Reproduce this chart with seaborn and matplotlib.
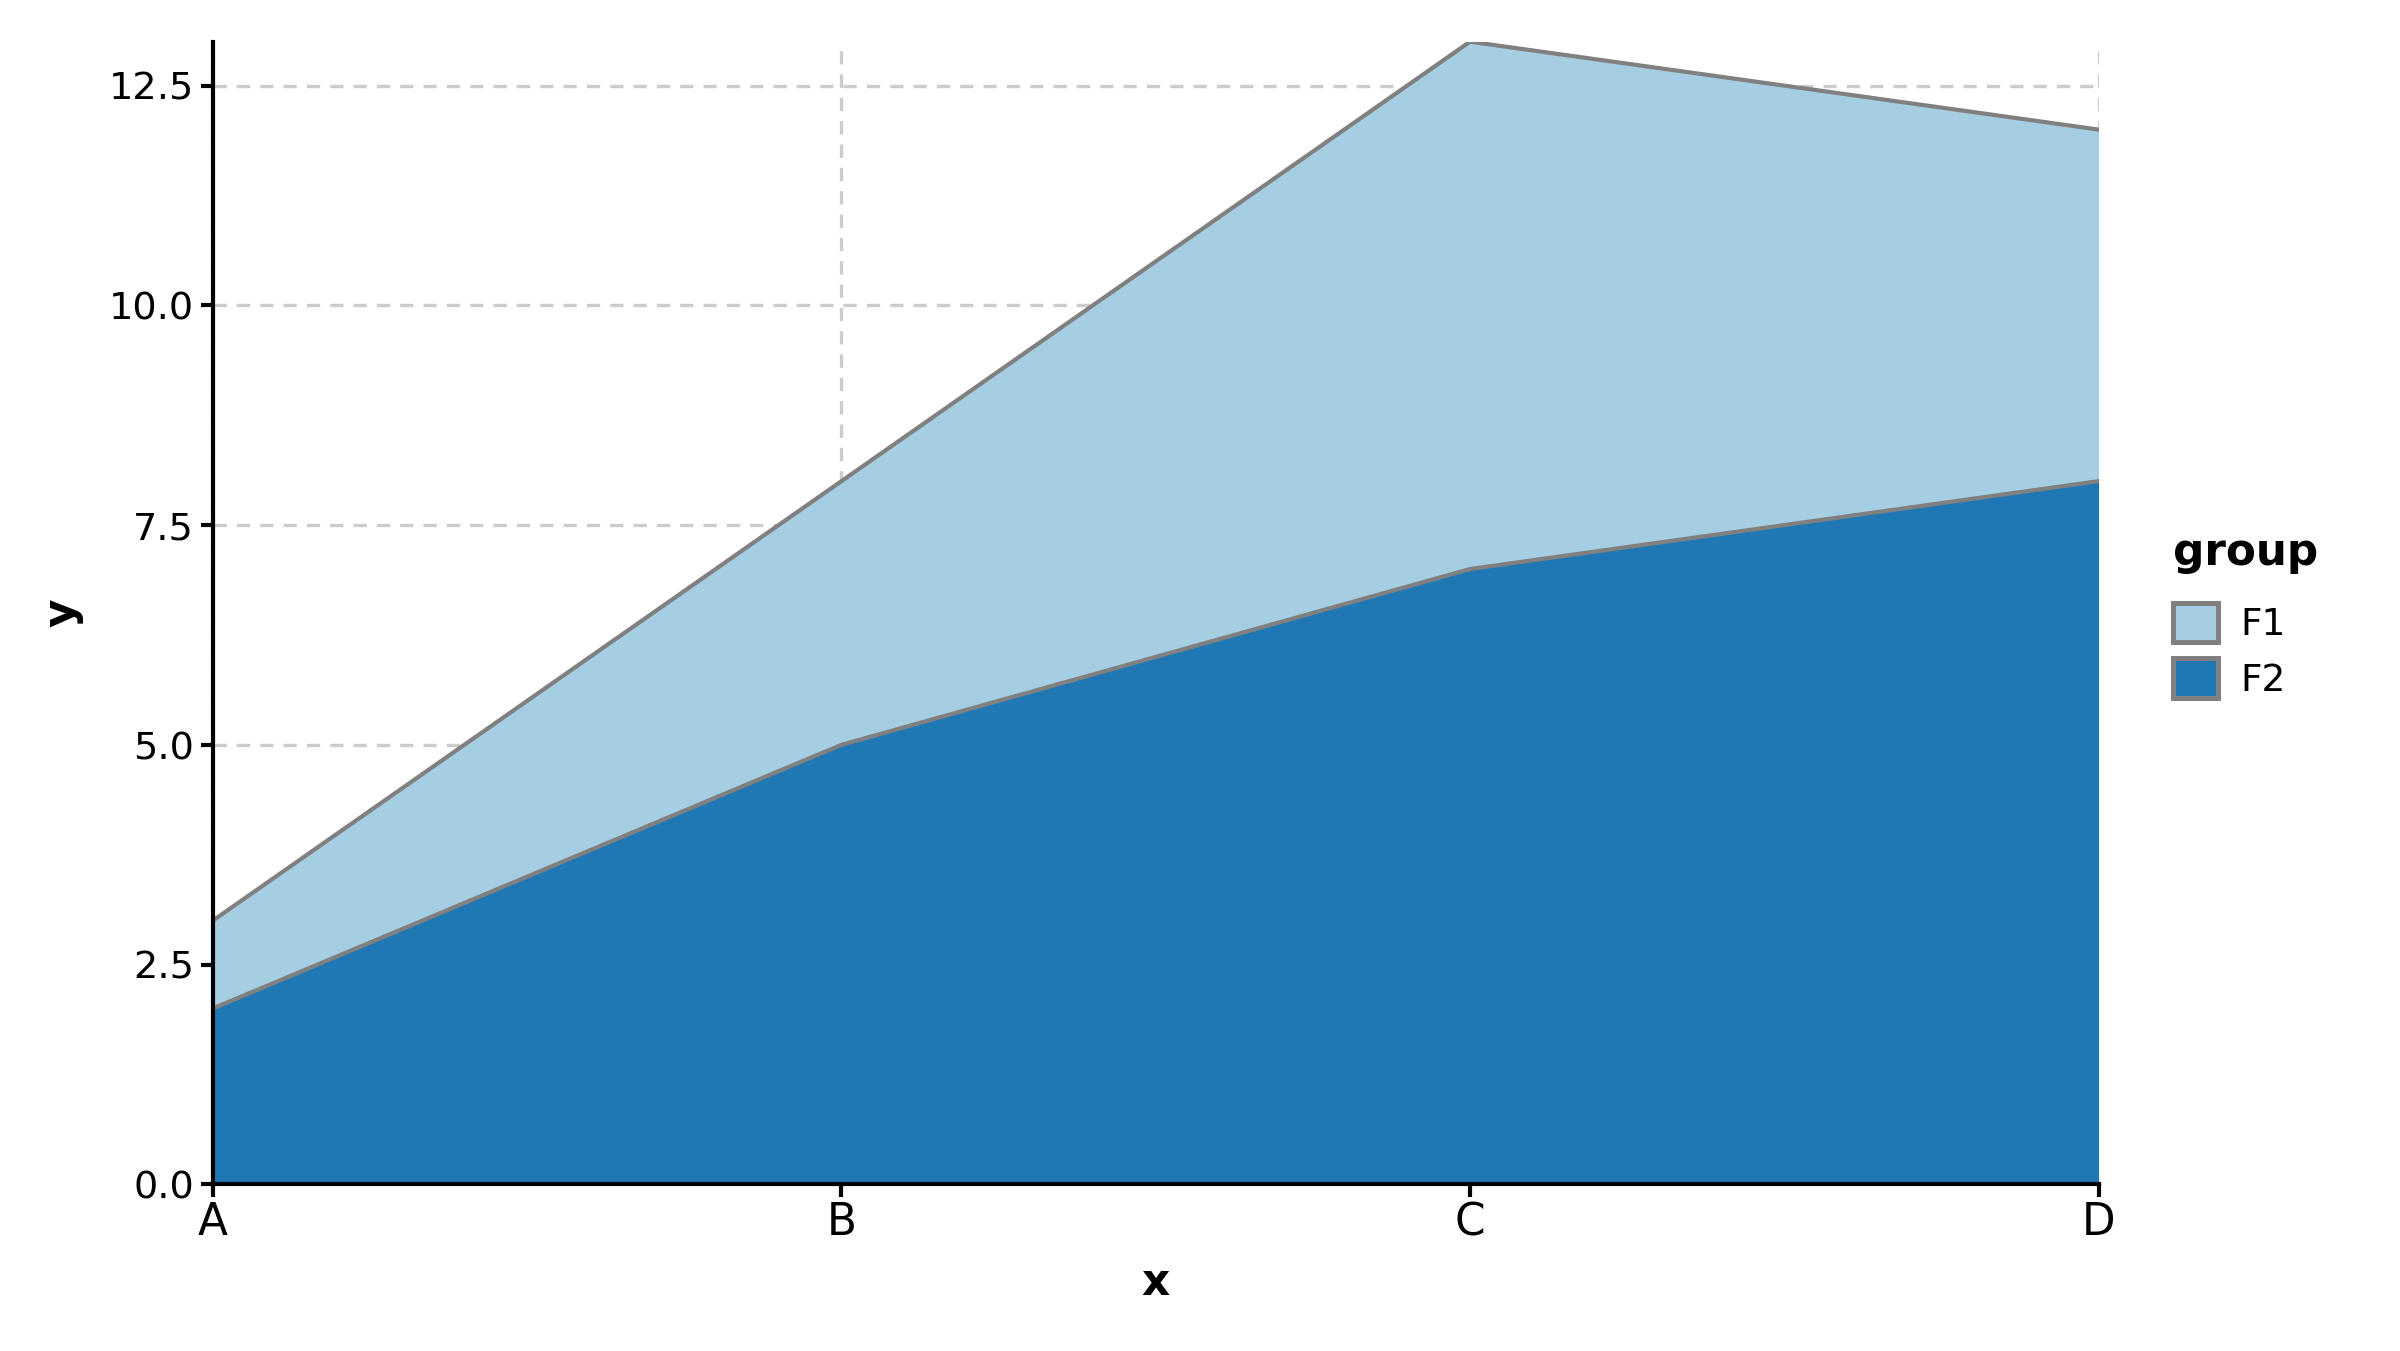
import pandas as pd
import seaborn as sns
import matplotlib.pyplot as plt
from matplotlib.patches import Patch

# data
categories = ['A', 'B', 'C', 'D']
f1_values = [1, 3, 6, 4]
f2_values = [2, 5, 7, 8]
groups = ['F1', 'F2']
colors = {'F1': '#a6cee3', 'F2': '#1f78b4'}

df = pd.DataFrame({'x': categories, 'F1': f1_values, 'F2': f2_values})
# stacked: F2 on the bottom, F1 on top
df['F2_top'] = df['F2']
df['F1_top'] = df['F2'] + df['F1']

sns.set_theme(style='white')
plt.rcParams['font.family'] = ['DejaVu Sans']
plt.rcParams['text.color'] = 'black'
plt.rcParams['axes.labelcolor'] = 'black'

fig = plt.figure(figsize=(8, 4.504), dpi=300)
ax = fig.add_axes([0.0887, 0.1234, 0.7857, 0.8456])

pos = list(range(len(categories)))
ax.fill_between(pos, 0, df['F2_top'], color=colors['F2'], linewidth=0, zorder=2)
ax.fill_between(pos, df['F2_top'], df['F1_top'], color=colors['F1'], linewidth=0, zorder=2)

sns.lineplot(x=pos, y=df['F2_top'], color='#808080', linewidth=1.0, ax=ax, zorder=3)
sns.lineplot(x=pos, y=df['F1_top'], color='#808080', linewidth=1.0, ax=ax, zorder=3)

ax.set_xlim(0, 3)
ax.set_ylim(0, 13)
ax.set_xticks(pos)
ax.set_xticklabels(categories)
ax.set_yticks([0, 2.5, 5, 7.5, 10, 12.5])
ax.set_yticklabels(['0.0', '2.5', '5.0', '7.5', '10.0', '12.5'])

ax.grid(True, color='#cccccc', linestyle=(0, (4, 3)), linewidth=0.8, zorder=0)
ax.set_axisbelow(True)

sns.despine(ax=ax)
for s in ['left', 'bottom']:
    ax.spines[s].set_color('black')
    ax.spines[s].set_linewidth(1.0)
    ax.spines[s].set_zorder(4)
ax.tick_params(axis='both', length=3, width=1.0, color='black',
               labelcolor='black', bottom=True, left=True, pad=1.5)
ax.tick_params(axis='x', labelsize=10.5, pad=1.0)
ax.tick_params(axis='y', labelsize=9.2)

ax.set_xlabel('x', fontsize=10.5, fontweight='bold', labelpad=4)
ax.set_ylabel('y', fontsize=10.5, fontweight='bold', labelpad=6)

handles = [Patch(facecolor=colors[g], edgecolor='#808080', linewidth=1.2, label=g) for g in groups]
leg = fig.legend(handles=handles, title='group', loc='center left', bbox_to_anchor=(0.8945, 0.545),
                 frameon=False, fontsize=9, title_fontproperties={'weight': 'bold', 'size': 10.5},
                 handlelength=1.2, handleheight=1.25, handletextpad=0.6, labelspacing=0.4,
                 borderpad=0.2)
leg._legend_box.align = 'left'
leg._legend_box.sep = 7

fig.savefig('out.png', dpi=300)
